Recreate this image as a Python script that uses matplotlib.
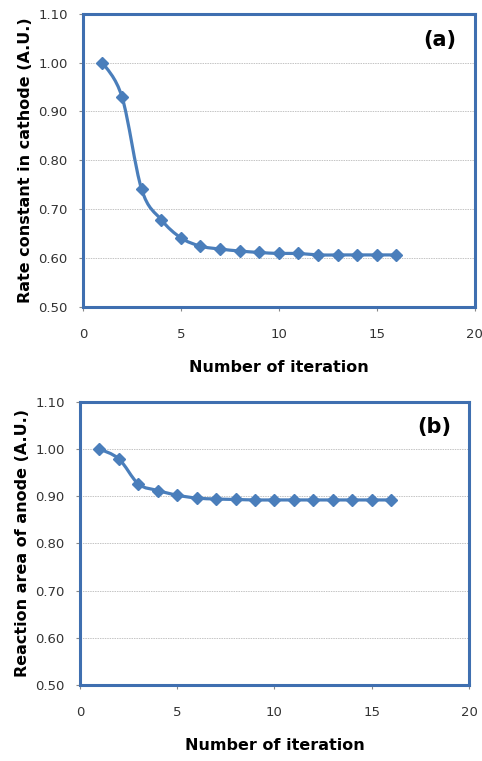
import matplotlib
matplotlib.use("Agg")
import matplotlib.pyplot as plt
import numpy as np
from matplotlib.path import Path
from matplotlib.patches import PathPatch

iterations = list(range(1, 17))
rate_cathode = [1.000, 0.929, 0.740, 0.678, 0.641, 0.624, 0.618, 0.614,
                0.611, 0.609, 0.609, 0.606, 0.606, 0.606, 0.606, 0.606]
area_anode = [1.000, 0.979, 0.926, 0.912, 0.902, 0.896, 0.894, 0.893,
              0.892, 0.892, 0.892, 0.892, 0.892, 0.892, 0.892, 0.892]
y_ticks = [0.50, 0.60, 0.70, 0.80, 0.90, 1.00, 1.10]
x_ticks = [0, 5, 10, 15, 20]

blue = "#4a7ebb"
frame = "#3f6fb0"


def smooth_path(x, y, t=0.5):
    # excel-like smoothed line drawn as bezier segments (catmull-rom handles)
    x = np.asarray(x, float)
    y = np.asarray(y, float)
    verts = [(x[0], y[0])]
    codes = [Path.MOVETO]
    n = len(x)
    for i in range(n - 1):
        x0, y0 = (x[i - 1], y[i - 1]) if i > 0 else (x[i], y[i])
        x3, y3 = (x[i + 2], y[i + 2]) if i + 2 < n else (x[i + 1], y[i + 1])
        c1 = (x[i] + (x[i + 1] - x0) * t / 3, y[i] + (y[i + 1] - y0) * t / 3)
        c2 = (x[i + 1] - (x3 - x[i]) * t / 3, y[i + 1] - (y3 - y[i]) * t / 3)
        verts += [c1, c2, (x[i + 1], y[i + 1])]
        codes += [Path.CURVE4] * 3
    return Path(verts, codes)


def draw_panel(ax, yvals, ylabel, tag):
    ax.add_patch(PathPatch(smooth_path(iterations, yvals), fill=False,
                           edgecolor=blue, lw=2.3, zorder=3))
    ax.plot(iterations, yvals, ls="none", marker="D", ms=6, color=blue,
            zorder=4)
    ax.set_xlim(0, 20)
    ax.set_ylim(0.5, 1.1)
    ax.set_xticks(x_ticks)
    ax.set_yticks(y_ticks)
    ax.set_yticklabels([f"{v:.2f}" for v in y_ticks])
    ax.grid(axis="y", color="#c4c4c4", ls=(0, (1.5, 1)), lw=0.7)
    ax.set_axisbelow(True)
    for s in ax.spines.values():
        s.set_color(frame)
        s.set_linewidth(2.2)
    ax.tick_params(labelsize=9.5, colors="#888888", length=3, width=0.8,
                   pad=8)
    ax.tick_params(axis="x", pad=12)
    for lbl in ax.get_xticklabels() + ax.get_yticklabels():
        lbl.set_color("#333333")
    ax.set_xlabel("Number of iteration", fontsize=11.5, fontweight="bold",
                  labelpad=14)
    ax.set_ylabel(ylabel, fontsize=11.5, fontweight="bold", labelpad=4)
    ax.text(0.91, 0.91, tag, transform=ax.transAxes, fontsize=15,
            fontweight="bold", ha="center", va="center")


fig = plt.figure(figsize=(4.82, 7.61), dpi=100)
ax1 = fig.add_axes([0.172, 0.597, 0.813, 0.385])
ax2 = fig.add_axes([0.166, 0.100, 0.807, 0.372])
draw_panel(ax1, rate_cathode, "Rate constant in cathode (A.U.)", "(a)")
draw_panel(ax2, area_anode, "Reaction area of anode (A.U.)", "(b)")
fig.savefig("out.png", dpi=100)
